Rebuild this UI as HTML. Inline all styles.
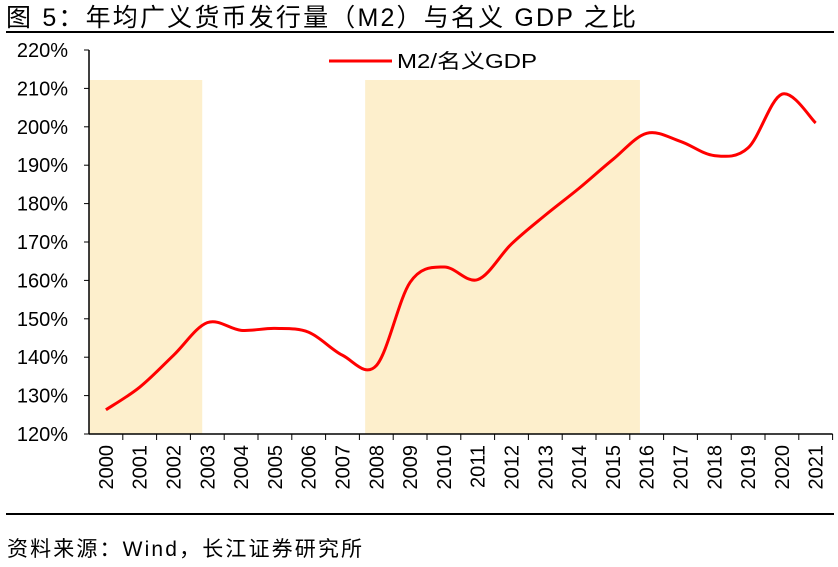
<!DOCTYPE html>
<html><head><meta charset="utf-8"><style>
html,body{margin:0;padding:0;background:#fff;}
body{width:838px;height:562px;overflow:hidden;font-family:"Liberation Sans","Noto Sans CJK SC",sans-serif;}
</style></head><body>
<svg id="chart" width="838" height="562" xmlns="http://www.w3.org/2000/svg" font-family="Liberation Sans, Noto Sans CJK SC, sans-serif">
<text x="6" y="26" font-size="25" fill="#000" textLength="630" lengthAdjust="spacing">图  5：年均广义货币发行量（M2）与名义 GDP 之比</text>
<line x1="6" y1="32" x2="834" y2="32" stroke="#000" stroke-width="2"/>
<line x1="6" y1="514" x2="834" y2="514" stroke="#000" stroke-width="2"/>
<text x="7" y="556" font-size="21" fill="#000" textLength="355" lengthAdjust="spacing">资料来源：Wind，长江证券研究所</text>
<g id="shades"></g><g id="axes"></g><g id="series"></g>
<g>
<line x1="329" y1="61" x2="392" y2="61" stroke="#f00" stroke-width="3"/>
<text x="397" y="68" font-size="20" fill="#000" textLength="140" lengthAdjust="spacingAndGlyphs">M2/名义GDP</text>
</g>
</svg>
<script>
const years=["2000","2001","2002","2003","2004","2005","2006","2007","2008","2009","2010","2011","2012","2013","2014","2015","2016","2017","2018","2019","2020","2021"];
const ratio=[126.3,132.2,140.5,149,147,147.5,146.5,140.5,137.8,159.5,163.5,160.2,169.5,177,184,191.5,198.3,196.2,192.5,194.5,208.5,201];
const yTicks=[120,130,140,150,160,170,180,190,200,210,220];
const shadeStart=[0,8.17];
const shadeEnd=[3.35,16.3];
const NS="http://www.w3.org/2000/svg";
const X0=89,BW=33.8,Y0=434,Y1=50,VMIN=120,VMAX=220;
const xb=i=>X0+i*BW, xc=i=>X0+(i+0.5)*BW;
const yv=v=>Y0-(v-VMIN)/(VMAX-VMIN)*(Y0-Y1);
function mk(t,a,p){const e=document.createElementNS(NS,t);for(const k in a)e.setAttribute(k,a[k]);p.appendChild(e);return e;}
const sh=document.getElementById('shades'),ax=document.getElementById('axes'),se=document.getElementById('series');
shadeStart.forEach((s,i)=>{const r=mk('rect',{x:xb(s),y:80,width:xb(shadeEnd[i])-xb(s),height:Y0-80,fill:'#fdefcc'},sh);

});
const ya=mk('line',{x1:X0,y1:Y1,x2:X0,y2:Y0,stroke:'#000','stroke-width':1.5},ax);


const xa=mk('line',{x1:X0,y1:Y0,x2:xb(years.length),y2:Y0,stroke:'#000','stroke-width':1.5},ax);


yTicks.forEach(v=>{mk('line',{x1:X0-5,y1:yv(v),x2:X0,y2:yv(v),stroke:'#000'},ax);
const t=mk('text',{x:68,y:yv(v)+7,'font-size':20,'text-anchor':'end',fill:'#000'},ax);t.textContent=v+'%';

});
years.forEach((y,i)=>{mk('line',{x1:xb(i+1),y1:Y0,x2:xb(i+1),y2:Y0+6,stroke:'#000'},ax);
const t=mk('text',{transform:`translate(${xc(i)+7},${445}) rotate(-90)`,'font-size':20,'text-anchor':'end',fill:'#000'},ax);t.textContent=y;

});
const P=ratio.map((v,i)=>[xc(i),yv(v)]);
let d=`M${P[0][0]},${P[0][1]}`;
for(let i=0;i<P.length-1;i++){const p0=P[i-1]||P[i],p1=P[i],p2=P[i+1],p3=P[i+2]||p2;
d+=` C${p1[0]+(p2[0]-p0[0])/6},${p1[1]+(p2[1]-p0[1])/6} ${p2[0]-(p3[0]-p1[0])/6},${p2[1]-(p3[1]-p1[1])/6} ${p2[0]},${p2[1]}`;}
const ln=mk('path',{d:d,fill:'none',stroke:'#f00','stroke-width':3},se);


</script>
</body></html>
